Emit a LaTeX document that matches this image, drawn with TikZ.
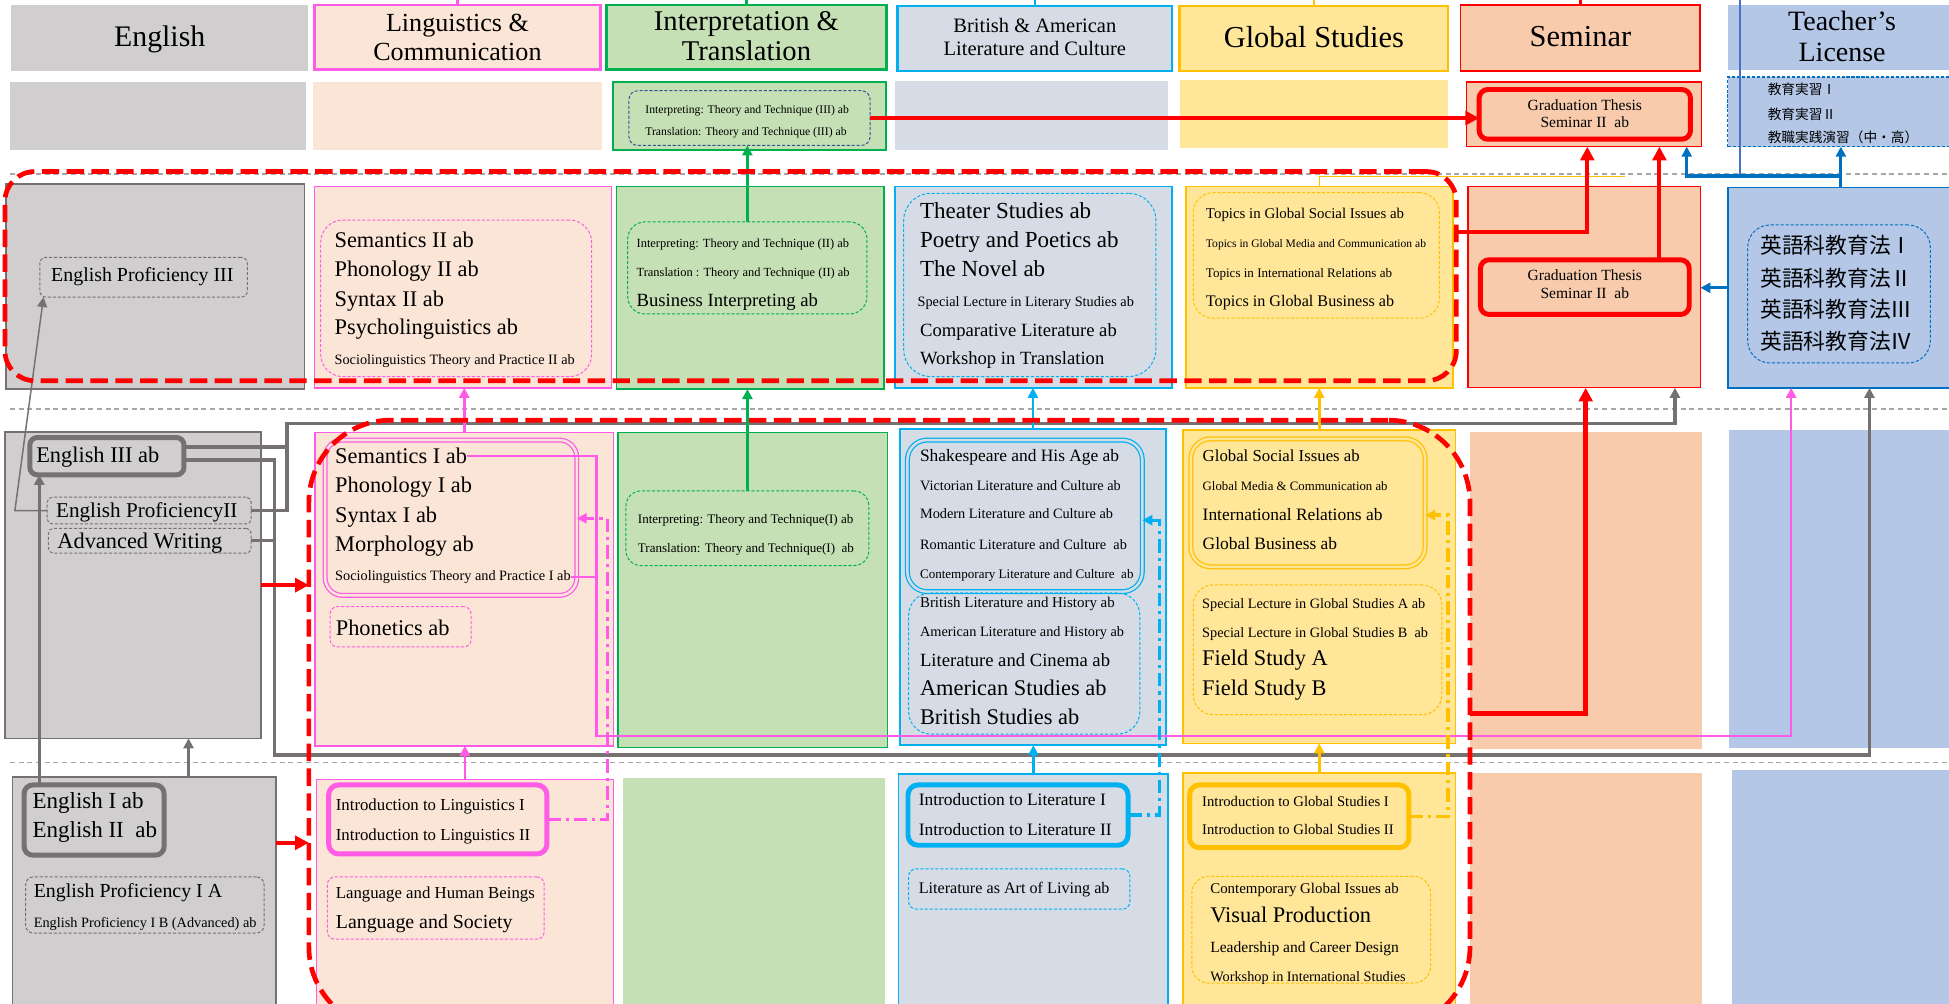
\documentclass[tikz,border=0pt]{standalone}
\usepackage{fontspec}
\setmainfont{Liberation Serif}
\newfontfamily\jpfont{Noto Sans CJK JP}
\usetikzlibrary{arrows.meta}
\definecolor{egfill}{HTML}{D0CECE}
\definecolor{egline}{HTML}{767171}
\definecolor{lgfill}{HTML}{FBE5D6}
\definecolor{lgline}{HTML}{FF5BE6}
\definecolor{itfill}{HTML}{C5E0B4}
\definecolor{itline}{HTML}{00B050}
\definecolor{brfill}{HTML}{D6DCE5}
\definecolor{brline}{HTML}{00B0F0}
\definecolor{glfill}{HTML}{FFE699}
\definecolor{glline}{HTML}{FFC000}
\definecolor{smfill}{HTML}{F8CBAD}
\definecolor{smline}{HTML}{FF0000}
\definecolor{tcfill}{HTML}{B4C7E7}
\definecolor{tcline}{HTML}{0070C0}
\definecolor{tcblue}{HTML}{4472C4}
\definecolor{dkblue}{HTML}{2F5597}
\definecolor{sepgray}{HTML}{A6A6A6}
\newcommand\mybox[6]{\node[#2,anchor=north west,minimum width={#5pt-#3pt},minimum height={#6pt-#4pt},inner sep=0pt,outer sep=0pt] (#1) at (#3,#4) {};}
\newcommand\mytx[5]{\node[anchor=base west,inner sep=0pt,font=\fontsize{#4}{#4}\selectfont] (#1) at (#2,{#3+0.3*#4}) {#5};}
\newcommand\mytc[5]{\node[anchor=base,inner sep=0pt,font=\fontsize{#4}{#4}\selectfont] (#1) at (#2,{#3+0.3*#4}) {#5};}
\newcommand\myjp[5]{\node[anchor=base west,inner sep=0pt,font=\jpfont\fontsize{#4}{#4}\selectfont] (#1) at (#2,{#3+0.36*#4}) {#5};}
\tikzset{
  egb/.style={fill=egfill,draw=egline,line width=1.2pt},
  lgb/.style={fill=lgfill,draw=lgline,line width=1.2pt},
  itb/.style={fill=itfill,draw=itline,line width=1.2pt},
  brb/.style={fill=brfill,draw=brline,line width=1.2pt},
  glb/.style={fill=glfill,draw=glline,line width=1.2pt},
  smb/.style={fill=smfill,draw=smline,line width=1pt},
  tcb/.style={fill=tcfill,draw=tcline,line width=1.2pt},
  dsh/.style={draw=#1,line width=0.8pt,dash pattern=on 2.5pt off 1.5pt},
  thk/.style={draw=#1,line width=4pt},
  dbl/.style 2 args={draw=#1,double=#2,double distance=2pt,line width=1pt},
  regn/.style={draw=smline,line width=3.8pt,dash pattern=on 14pt off 6pt},
  tipR/.style={-{Triangle[length=11pt,width=11pt]}},
  tipS/.style={-{Triangle[length=8pt,width=8pt]}},
  redc/.style={draw=smline,line width=3.2pt},
  pinkc/.style={draw=lgline,line width=2pt},
  grc/.style={draw=itline,line width=2pt},
  brc/.style={draw=brline,line width=2pt},
  glc/.style={draw=glline,line width=2pt},
  gyc/.style={draw=egline,line width=2.8pt},
  tcc/.style={draw=tcline,line width=2.5pt},
  dd/.style={draw=#1,line width=2.6pt,dash pattern=on 11pt off 4pt on 2.5pt off 4pt},
  sepl/.style={draw=sepgray,line width=0.9pt,dash pattern=on 4pt off 3pt}
}
\begin{document}
\begin{tikzpicture}[x=1pt,y=-1pt]
\path[use as bounding box] (0,0) rectangle (1568,807);
\clip (0,0) rectangle (1568,807);
\fill[white] (0,0) rectangle (1568,807);
\coordinate (top) at (0,-3);
% ---------- header row
\mybox{hEng}{fill=egfill}{9}{4}{248}{57}
\mybox{hLing}{fill=lgfill,draw=lgline,line width=2pt}{253}{4}{483}{56}
\mybox{hInt}{fill=itfill,draw=itline,line width=2pt}{488}{4}{713}{56}
\mybox{hBr}{fill=brfill,draw=brline,line width=2pt}{722}{5}{943}{57}
\mybox{hGl}{fill=glfill,draw=glline,line width=2pt}{949}{5}{1165}{57}
\mybox{hSem}{fill=smfill,draw=smline,line width=1.5pt}{1175}{4}{1368}{57}
\mybox{hTc}{fill=tcfill}{1390}{4}{1575}{56}
% ---------- row A
\mybox{aEng}{fill=egfill}{8}{66}{246}{121}
\mybox{aLing}{fill=lgfill}{252}{66}{484}{121}
\mybox{aInt}{itb,line width=1.5pt}{493}{66}{713}{121}
\mybox{aIntIn}{dsh=dkblue,rounded corners=7pt}{506}{73}{700}{117}
\mybox{aBr}{fill=brfill}{720}{65}{940}{121}
\mybox{aGl}{fill=glfill}{949}{64}{1165}{119}
\mybox{aSem}{smb}{1180}{66}{1369}{118}
\mybox{aSemIn}{thk=smline,rounded corners=7pt}{1190}{72}{1360}{112}
\mybox{aTc}{fill=tcfill,dsh=tcline,line width=1pt}{1390}{62}{1575}{118}
% ---------- row B
\mybox{bEng}{egb}{5}{148}{245}{313}
\mybox{bEngIn}{dsh=egline,rounded corners=5pt}{32}{207}{199}{239}
\mybox{bLing}{lgb}{253}{150}{492}{312}
\mybox{bLingIn}{dsh=lgline,rounded corners=18pt}{258}{177}{476}{303}
\mybox{bInt}{itb}{496}{150}{711}{313}
\mybox{bIntIn}{dsh=itline,rounded corners=14pt}{505}{178.5}{697.5}{252.6}
\mybox{bBr}{brb}{720}{150}{943}{312}
\mybox{bBrIn}{dsh=brline,rounded corners=22pt}{727}{155.5}{930}{303}
\mybox{bGl}{glb}{954}{150}{1169}{312}
\mybox{bGlIn}{dsh=glline,rounded corners=16pt}{960}{155}{1158}{256}
\mybox{bSem}{smb}{1181}{150}{1368}{312}
\mybox{bSemIn}{thk=smline,rounded corners=7pt}{1191}{209}{1359}{253}
\mybox{bTc}{tcb}{1390}{151}{1575}{312}
\mybox{bTcIn}{dsh=tcline,rounded corners=18pt}{1406}{181}{1553}{292}
% ---------- row C
\mybox{cEng}{egb}{4}{347.5}{210}{594}
\mybox{engIII}{thk=egline,rounded corners=6pt}{24}{352}{148}{382}
\mybox{engPII}{dsh=egline,rounded corners=4pt}{38}{400}{202}{421.5}
\mybox{advW}{dsh=egline,rounded corners=4pt}{39}{425}{202}{445}
\mybox{cLing}{lgb}{253.5}{348}{493.5}{600}
\mybox{cLingIn}{dbl={lgline}{lgfill},rounded corners=14pt}{261.6}{354}{464}{479}
\mybox{phonBox}{dsh=lgline,rounded corners=6pt}{265.6}{488}{379}{520.5}
\mybox{cInt}{itb}{497}{348}{714}{601.5}
\mybox{cIntIn}{dsh=itline,rounded corners=12pt}{503.6}{395}{699}{455}
\mybox{cBr}{brb}{724}{345}{938}{599.5}
\mybox{cBrIn}{dbl={brline}{brfill},rounded corners=16pt}{730}{354}{919}{476}
\mybox{cBrIn2}{dsh=brline,rounded corners=18pt}{731}{477}{917}{590.6}
\mybox{cGl}{glb}{951.7}{346}{1171}{598}
\mybox{cGlIn}{dbl={glline}{glfill},rounded corners=16pt}{958}{353}{1146.5}{456}
\mybox{cGlIn2}{dsh=glline,rounded corners=16pt}{960}{470.6}{1160}{575}
\mybox{cSem}{fill=smfill}{1182.6}{347.7}{1369}{602.8}
\mybox{cTc}{fill=tcfill}{1391}{346}{1575}{601.6}
% ---------- row D
\mybox{dEng}{egb}{10}{625}{222}{812}
\mybox{dEngIn}{thk=egline,rounded corners=7pt}{19.4}{631.5}{132}{688}
\mybox{dEngIn2}{dsh=egline,rounded corners=6pt}{20.7}{705.5}{212.4}{750.6}
\mybox{dLing}{lgb}{254.5}{627}{493.5}{812}
\mybox{dLingIn}{thk=lgline,rounded corners=8pt}{264.4}{631.5}{440}{687}
\mybox{dLingIn2}{dsh=lgline,rounded corners=6pt}{263.4}{705.5}{437.8}{755.6}
\mybox{dInt}{fill=itfill}{501}{626}{712}{812}
\mybox{dBr}{brb}{723}{622.8}{939.7}{812}
\mybox{dBrIn}{thk=brline,rounded corners=8pt}{730.5}{631.5}{907.5}{680}
\mybox{dBrIn2}{dsh=brline,rounded corners=6pt}{731}{699}{909}{731.4}
\mybox{dGl}{glb}{951.7}{622}{1171}{812}
\mybox{dGlIn}{thk=glline,rounded corners=8pt}{957}{631.5}{1133.5}{682}
\mybox{dGlIn2}{dsh=glline,rounded corners=14pt}{958.8}{705}{1151}{791}
\mybox{dSem}{fill=smfill}{1182.6}{621.6}{1369}{812}
\mybox{dTc}{fill=tcfill}{1393}{619.5}{1575}{812}
% ---------- separators
\draw[sepl] (8,140) -- (1568,140);
\draw[sepl] (8,329) -- (1568,329);
\draw[sepl] (8,613.5) -- (1568,613.5);
% ---------- header texts
\mytc{thEng}{128.5}{30}{24}{English}
\mytc{thL1}{368}{19}{21}{Linguistics \&}
\mytc{thL2}{368}{42.4}{21}{Communication}
\mytc{thI1}{600.5}{17.4}{23}{Interpretation \&}
\mytc{thI2}{600.5}{41.6}{23}{Translation}
\mytc{thB1}{832.5}{21.5}{16.5}{British \& American}
\mytc{thB2}{832.5}{39.7}{16.5}{Literature and Culture}
\mytc{thG}{1057}{30.5}{24.5}{Global Studies}
\mytc{thS}{1271.5}{30}{24.5}{Seminar}
\mytc{thT1}{1482}{17.4}{22.5}{Teacher’s}
\mytc{thT2}{1482}{42.9}{22.5}{License}
% ---------- row A texts
\mytx{tIT3}{519}{88.5}{9.4}{Interpreting: Theory and Technique (III) ab}
\mytx{tTT3}{519}{106}{9.4}{Translation: Theory and Technique (III) ab}
\mytc{tGT1}{1275}{85.3}{12.5}{Graduation Thesis}
\mytc{tGT2}{1275}{99.2}{12.5}{Seminar II \ ab}
\myjp{tJ1}{1422}{72}{11}{教育実習Ⅰ}
\myjp{tJ2}{1422}{92.5}{11}{教育実習Ⅱ}
\myjp{tJ3}{1422}{110.5}{11}{教職実践演習（中・高）}
% ---------- row B texts
\mytx{tEP3}{41}{222}{16}{English Proficiency III}
\mytx{tSem2}{269}{194}{18}{Semantics II ab}
\mytx{tPho2}{269}{217}{18}{Phonology II ab}
\mytx{tSyn2}{269}{241}{18}{Syntax II ab}
\mytx{tPsy}{269}{264}{18}{Psycholinguistics ab}
\mytx{tSoc2}{269}{290}{11.5}{Sociolinguistics Theory and Practice II ab}
\mytx{tIT2}{512}{196.3}{10}{Interpreting: Theory and Technique (II) ab}
\mytx{tTT2}{512}{219.8}{10}{Translation : Theory and Technique (II) ab}
\mytx{tBI}{512}{242}{15}{Business Interpreting ab}
\mytx{tThe}{740}{170}{18.5}{Theater Studies ab}
\mytx{tPoe}{740}{193.6}{18.5}{Poetry and Poetics ab}
\mytx{tNov}{740}{216.7}{18.5}{The Novel ab}
\mytx{tSLL}{738}{243}{11.5}{Special Lecture in Literary Studies ab}
\mytx{tCom}{740}{266}{15}{Comparative Literature ab}
\mytx{tWiT}{740}{288.8}{15}{Workshop in Translation}
\mytx{tTG1}{970}{172}{12}{Topics in Global Social Issues ab}
\mytx{tTG2}{970}{196}{9.3}{Topics in Global Media and Communication ab}
\mytx{tTG3}{970}{220}{10.5}{Topics in International Relations ab}
\mytx{tTG4}{970}{243}{13}{Topics in Global Business ab}
\mytc{tGB1}{1275}{222}{12.5}{Graduation Thesis}
\mytc{tGB2}{1275}{236}{12.5}{Seminar II \ ab}
\myjp{tK1}{1416}{198}{17.5}{英語科教育法Ⅰ}
\myjp{tK2}{1416}{224}{17.5}{英語科教育法Ⅱ}
\myjp{tK3}{1416}{249}{17.5}{英語科教育法Ⅲ}
\myjp{tK4}{1416}{275}{17.5}{英語科教育法Ⅳ}
% ---------- row C texts
\mytx{tE3}{29}{367}{18}{English III ab}
\mytx{tEP2}{45}{411}{17}{English ProficiencyII}
\mytx{tAW}{46}{435.5}{18}{Advanced Writing}
\mytx{tSem1}{269.5}{367.5}{18}{Semantics I ab}
\mytx{tPho1}{269.5}{391}{18}{Phonology I ab}
\mytx{tSyn1}{269.5}{415}{18}{Syntax I ab}
\mytx{tMor}{269.5}{438.5}{18}{Morphology ab}
\mytx{tSoc1}{269.5}{463.5}{11.5}{Sociolinguistics Theory and Practice I ab}
\mytx{tPhon}{270}{506}{18}{Phonetics ab}
\mytx{tIT1}{513}{417.7}{10.5}{Interpreting: Theory and Technique(I) ab}
\mytx{tTT1}{513}{441}{10.5}{Translation: Theory and Technique(I) \ ab}
\mytx{tSha}{740}{367}{14}{Shakespeare and His Age ab}
\mytx{tVic}{740}{391}{11.5}{Victorian Literature and Culture ab}
\mytx{tMod}{740}{414}{11.5}{Modern Literature and Culture ab}
\mytx{tRom}{740}{438.5}{11.5}{Romantic Literature and Culture \ ab}
\mytx{tCon}{740}{462}{10.5}{Contemporary Literature and Culture \ ab}
\mytx{tBLH}{740}{485.5}{12}{British Literature and History ab}
\mytx{tALH}{740}{509}{11.5}{American Literature and History ab}
\mytx{tLaC}{740}{531.5}{15}{Literature and Cinema ab}
\mytx{tAmS}{740}{553.8}{18}{American Studies ab}
\mytx{tBrS}{740}{577.6}{18}{British Studies ab}
\mytx{tGSI}{967.4}{367.4}{13.5}{Global Social Issues ab}
\mytx{tGMC}{967.4}{391.5}{10.3}{Global Media \& Communication ab}
\mytx{tIR}{967.4}{414.8}{14}{International Relations ab}
\mytx{tGBu}{967.4}{437.9}{14}{Global Business ab}
\mytx{tSLA}{967}{486}{11.5}{Special Lecture in Global Studies A ab}
\mytx{tSLB}{967}{509.5}{11.5}{Special Lecture in Global Studies B \ ab}
\mytx{tFSA}{967}{530}{18}{Field Study A}
\mytx{tFSB}{967}{554}{18}{Field Study B}
% ---------- row D texts
\mytx{tE1}{26}{645}{18.5}{English I ab}
\mytx{tE2}{26}{668.6}{18.5}{English II \ ab}
\mytx{tEPA}{27}{717.6}{16}{English Proficiency I A}
\mytx{tEPB}{27}{742.6}{11.5}{English Proficiency I B (Advanced) ab}
\mytx{tIL1}{270}{648}{13.5}{Introduction to Linguistics I}
\mytx{tIL2}{270}{672}{13.5}{Introduction to Linguistics II}
\mytx{tLHB}{270}{719}{13.5}{Language and Human Beings}
\mytx{tLS}{270}{742}{16}{Language and Society}
\mytx{tILt1}{739}{644}{14}{Introduction to Literature I}
\mytx{tILt2}{739}{667.7}{14}{Introduction to Literature II}
\mytx{tLAL}{739}{715}{13}{Literature as Art of Living ab}
\mytx{tIG1}{967}{645}{11.8}{Introduction to Global Studies I}
\mytx{tIG2}{967}{667.7}{11.8}{Introduction to Global Studies II}
\mytx{tCGI}{973.5}{715.3}{12}{Contemporary Global Issues ab}
\mytx{tVP}{973.5}{737}{18}{Visual Production}
\mytx{tLCD}{973.5}{762.7}{12.5}{Leadership and Career Design}
\mytx{tWIS}{973.5}{786}{11.5}{Workshop in International Studies}
% ---------- coordinates for connector bends
\coordinate (r1e) at (1171.6,187);
\coordinate (sA1) at (1277,118);
\coordinate (sA2) at (1335,118);
\coordinate (sA3) at (1357,118);
\coordinate (r2e) at (1182.6,573.8);
\coordinate (sB1) at (1275.7,312);
\coordinate (rd1) at (222,678);
\coordinate (tcj) at (1481,141.6);
\coordinate (tcA) at (1481,118);
\coordinate (tcv) at (1400,141.6);
\coordinate (pj) at (480,592);
\coordinate (tcB1) at (1441,312);
\coordinate (pd) at (488.5,417);
\coordinate (bd) at (933,418.5);
\coordinate (yd) at (1165,414.4);
\coordinate (yl) at (1307,142);
\coordinate (g1s) at (148,359.5);
\coordinate (g2s) at (148,370);
\coordinate (gA) at (231,340.5);
\coordinate (gB) at (1347.5,312);
\coordinate (gC) at (221,607.4);
\coordinate (gD) at (1504,312);
\coordinate (ge) at (12,410.75);
\coordinate (gf) at (35,239);
\coordinate (gg) at (31.6,500);
\coordinate (gh) at (151.7,600);
% ---------- stubs at the top edge
\draw[pinkc] (hLing.north) -- (hLing.north |- top);
\draw[grc] (hInt.north) -- (hInt.north |- top);
\draw[brc] (hBr.north) -- (hBr.north |- top);
\draw[glc] (hGl.north) -- (hGl.north |- top);
\draw[redc,line width=2pt] (hSem.north) -- (hSem.north |- top);
\draw[draw=tcblue,line width=2pt] (tcv |- top) -- (tcv);
% ---------- gray connectors
\draw[gyc,tipS] (g1s) -| (gA) -| (gB);
\draw[gyc] (engPII.east) -| (gA);
\draw[gyc,tipS] (g2s) -| (gC) -| (gD);
\draw[gyc] (advW.east) -| (gC);
\draw[draw=egline,line width=1.2pt,tipS] (engPII.west) -- (ge) -- (gf);
\draw[gyc,tipS] (gg |- dEngIn.north) -- (gg |- engIII.south);
\draw[draw=egline,line width=2pt,tipS] (gh |- dEng.north) -- (gh |- cEng.south);
% ---------- pink connectors
\draw[pinkc,tipS] (tSem1.east) -| (pj) -| (tcB1);
\draw[pinkc] (tSoc1.east) -- (tSoc1.east -| pj);
\draw[dd=lgline,tipS] (dLingIn.east) -| (pd) -- (cLingIn.east |- pd);
\draw[pinkc,tipS] (dLing.north) -- (dLing.north |- cLing.south);
\draw[pinkc,tipS] (cLing.north) -- (cLing.north |- bLing.south);
% ---------- green connectors
\draw[grc,tipS] (bIntIn.north) -- (bIntIn.north |- aIntIn.south);
\draw[grc,tipS] (cIntIn.north) -- (cIntIn.north |- bInt.south);
% ---------- blue connectors
\draw[brc,tipS] (dBr.north) -- (dBr.north |- cBr.south);
\draw[brc,tipS] (cBr.north) -- (cBr.north |- bBr.south);
\draw[dd=brline,tipS] (dBrIn.east) -| (bd) -- (cBrIn.east |- bd);
% ---------- yellow connectors
\draw[glc,tipS] (dGl.north) -- (dGl.north |- cGl.south);
\draw[glc,tipS] (cGl.north) -- (cGl.north |- bGl.south);
\draw[dd=glline,tipS] (dGlIn.east) -| (yd) -- (cGlIn.east |- yd);
\draw[draw=glline,line width=1.2pt] (bGl.north) |- (yl);
% ---------- teacher blue connectors
\draw[tcc,tipS] (bTc.west) -- (bSem.east |- bTc.west);
\draw[tcc,tipS] (tcj |- bTc.north) -- (tcj) -| (sA3);
\draw[tcc,tipS] (tcj) -- (tcA);
% ---------- red regions
\mybox{regA}{regn,rounded corners=24pt}{4}{138}{1171.6}{306.3}
\mybox{regB}{regn,rounded corners=66pt}{248.5}{338}{1182.6}{828}
% ---------- red connectors
\draw[redc,tipR] (aIntIn.east) -- (aSemIn.west |- aIntIn.east);
\draw[redc,tipR] (r1e) -| (sA1);
\draw[redc,tipR] (sA2 |- bSemIn.north) -- (sA2);
\draw[redc,line width=4.2pt,tipR] (r2e) -| (sB1);
\draw[redc,line width=3.6pt,tipR] (cEng.east) -- (cEng.east -| regB.west);
\draw[redc,line width=3.6pt,tipR] (rd1) -- (rd1 -| regB.west);
\end{tikzpicture}
\end{document}
